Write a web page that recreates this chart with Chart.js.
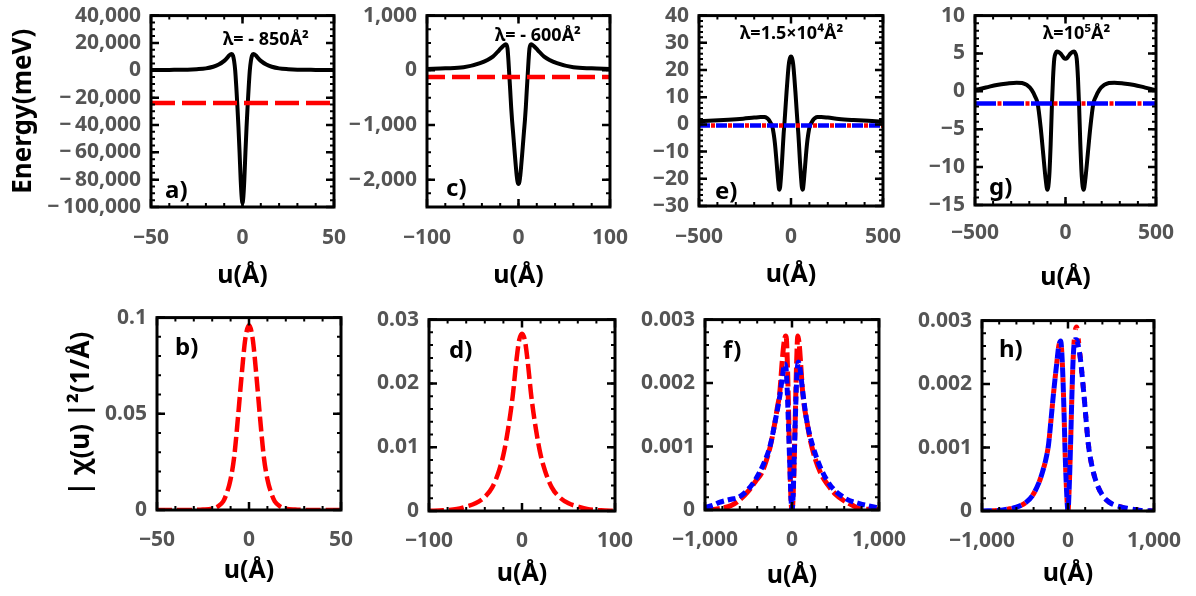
<!DOCTYPE html>
<html>
<head>
<meta charset="utf-8">
<script src="https://cdn.jsdelivr.net/npm/chart.js@4.4.1/dist/chart.umd.min.js"></script>
<style>
  body { margin: 0; background: #fff; width: 1196px; height: 596px; overflow: hidden; position: relative; }
  canvas { position: absolute; }
</style>
</head>
<body>
<script>
// ---- values ----
// a) lambda = -850
const uA = [-50,-40,-30,-25,-20,-16,-13,-10,-8.5,-7.4,-6.6,-5.9,-5.2,-4.6,-4,-3.4,-2.8,-2.2,-1.6,-1,-0.5,0,0.5,1,1.6,2.2,2.8,3.4,4,4.6,5.2,5.9,6.6,7.4,8.5,10,13,16,20,25,30,40,50];
const vA = [250,300,450,800,1400,2600,4200,6900,8900,10700,11600,12000,10800,7000,0,-12000,-26000,-42000,-60000,-80000,-92000,-97000,-92000,-80000,-60000,-42000,-26000,-12000,0,7000,10800,12000,11600,10700,8900,6900,4200,2600,1400,800,450,300,250];
const e0A = -24000;

// c) lambda = -600
const uC = [-100,-80,-60,-42,-28,-21,-17,-13.8,-12,-11,-10,-9,-8,-7,-6,-5,-4,-3,-2,-1,0,1,2,3,4,5,6,7,8,9,10,11,12,13.8,17,21,28,42,60,80,100];
const vC = [25,35,55,130,250,370,440,478,400,180,-100,-380,-680,-920,-1120,-1330,-1540,-1740,-1920,-2040,-2080,-2040,-1920,-1740,-1540,-1330,-1120,-920,-680,-380,-100,180,400,478,440,370,250,130,55,35,25];
const e0C = -125;

// e) lambda = 1.5e4
const uE = [-500,-420,-340,-260,-200,-165,-145,-130,-120,-112,-102,-94,-87,-80,-74,-69,-64,-59,-54,-49,-44,-40,-36,-30,-24,-18,-12,-6,0,6,12,18,24,30,36,40,44,49,54,59,64,69,74,80,87,94,102,112,120,130,145,165,200,260,340,420,500];
const vE = [1.2,1.4,1.7,2.1,2.5,2.7,2.7,2.3,1.6,0.7,-0.6,-3.5,-7.2,-12.5,-17.5,-21.5,-24,-23,-19,-14,-8,-3.5,0,6,12,17.5,22,24.3,25,24.3,22,17.5,12,6,0,-3.5,-8,-14,-19,-23,-24,-21.5,-17.5,-12.5,-7.2,-3.5,-0.6,0.7,1.6,2.3,2.7,2.7,2.5,2.0,1.6,1.3,1.0];
const e0E = -0.4;

// g) lambda = 1e5
const uG = [-500,-440,-380,-320,-270,-240,-214,-187,-168,-154,-137,-123,-110,-100,-90,-82,-75,-69,-62,-55,-48,-38,-28,-18,-9,0,9,18,28,38,48,55,62,69,75,82,90,100,110,123,137,154,168,187,214,240,270,320,380,440,500];
const vG = [0.2,0.5,0.85,1.05,1.15,1.1,0.84,0.19,-0.68,-1.6,-4.8,-8.3,-11.5,-13,-11.3,-7,-1.8,1.7,4.3,5.0,5.25,5.2,5.0,4.7,4.4,4.3,4.4,4.7,5.0,5.2,5.25,5.0,4.3,1.7,-1.8,-7,-11.3,-13,-11.5,-8.3,-4.8,-1.6,-0.68,0.19,0.84,1.1,1.15,1.05,0.85,0.5,0.15];
const e0G = -1.6;

// b) |chi|^2 for a)
const uB = [-50,-30,-25,-20,-17,-14,-12,-10,-8,-6,-4,-2,0,2,4,6,8,10,12,14,17,20,25,30,50];
const vB = [0,0.00005,0.0002,0.0007,0.0018,0.0045,0.009,0.016,0.028,0.048,0.07,0.089,0.096,0.089,0.07,0.048,0.028,0.016,0.009,0.0045,0.0018,0.0007,0.0002,0.00005,0];

// d)
const uD = [-100,-85,-70,-60,-50,-40,-32,-25,-20,-15,-10,-6,-3,0,3,6,10,15,20,25,32,40,50,60,70,85,100];
const vD = [0.00003,0.0001,0.0003,0.0007,0.0012,0.0022,0.0037,0.0062,0.0088,0.0128,0.018,0.0236,0.0268,0.0278,0.0268,0.0236,0.018,0.0128,0.0088,0.0062,0.0037,0.0022,0.0012,0.0007,0.0003,0.0001,0.00003];

// f) red and blue
const uFr = [-1000,-900,-800,-700,-600,-500,-420,-350,-300,-250,-200,-170,-140,-115,-95,-80,-72,-64,-55,-45,-35,-22,-10,0,10,22,35,45,55,66,74,84,100,120,145,172,210,264,330,410,500,593,700,776,900,1000];
const vFr = [0.000005,0.00001,0.00003,0.00007,0.00016,0.0003,0.00045,0.00058,0.00076,0.001,0.00135,0.0016,0.00186,0.0023,0.0026,0.00272,0.00274,0.0027,0.0024,0.0019,0.0013,0.0006,0.00012,0,0.00012,0.0006,0.0013,0.0019,0.0024,0.00274,0.0027,0.0026,0.0023,0.0019,0.0016,0.00139,0.0011,0.00082,0.00058,0.0004,0.00025,0.00015,0.00007,0.00002,0.00001,0.000005];
const uFb = [-1000,-900,-835,-700,-615,-500,-420,-322,-250,-194,-140,-110,-85,-70,-55,-40,-25,-12,0,12,25,40,55,74,95,120,172,264,410,593,776,900,1000];
const vFb = [0.00004,0.00008,0.00012,0.00017,0.0002,0.00033,0.00048,0.00074,0.00102,0.00139,0.0018,0.0021,0.0023,0.00225,0.0019,0.0013,0.0007,0.0002,0,0.0002,0.0008,0.0015,0.0021,0.00233,0.0022,0.0019,0.00139,0.0009,0.00045,0.0002,0.0001,0.00006,0.00003];

// h) red and blue (almost the same curve)
const uHr = [-1000,-800,-700,-600,-485,-410,-337,-300,-260,-226,-200,-170,-133,-107,-85,-72,-59,-45,-33,-16,0,15,30,45,60,80,100,120,144,181,237,280,330,400,478,600,700,850,1000];
const vHr = [0,0.00001,0.00003,0.00006,0.00014,0.00025,0.00045,0.0006,0.0008,0.00105,0.0014,0.00183,0.0023,0.0026,0.00268,0.0025,0.0021,0.0015,0.0009,0.0003,0,0.0004,0.00105,0.0018,0.0024,0.0028,0.0029,0.0027,0.0024,0.0019,0.00105,0.0007,0.00045,0.00025,0.00014,0.00007,0.00004,0.00001,0];
const uHb = uHr;
const vHb = [0,0.00001,0.00003,0.00006,0.00014,0.00025,0.00045,0.0006,0.0008,0.00105,0.0014,0.00183,0.0023,0.0026,0.00268,0.0025,0.0021,0.0015,0.0009,0.0003,0,0.0004,0.00105,0.0018,0.0024,0.0027,0.0027,0.0026,0.0024,0.0019,0.00105,0.0007,0.00045,0.00025,0.00014,0.00007,0.00004,0.00001,0];

// tick labels
const xTicksA = [-50, 0, 50];
const xTicksC = [-100, 0, 100];
const xTicksE = [-500, 0, 500];
const xTicksF = [-1000, 0, 1000];
const yTicksA = [40000, 20000, 0, -20000, -40000, -60000, -80000, -100000];
const yTicksC = [1000, 0, -1000, -2000];
const yTicksE = [40, 30, 20, 10, 0, -10, -20, -30];
const yTicksG = [10, 5, 0, -5, -10, -15];
const yTicksB = [0.1, 0.05, 0];
const yTicksD = [0.03, 0.02, 0.01, 0];
const yTicksF = [0.003, 0.002, 0.001, 0];

// ---- drawing ----
Chart.defaults.font.family = "'Noto Sans', 'Open Sans', sans-serif";
const TICK = '#555';
const PAD_TOP = 20, PAD_RIGHT = 36;

function fmt(v, minus) {
  if (v === 0) return '0';
  const s = Math.abs(v).toLocaleString('en-US', { maximumFractionDigits: 4 });
  return v < 0 ? (minus || '\u2212') + s : s;
}

function pts(xs, ys) {
  return xs.map((x, i) => ({ x: x, y: ys[i] }));
}

function line(data, color, width, dash, offset, order) {
  return {
    data: data, borderColor: color, borderWidth: width,
    borderDash: dash || [], borderDashOffset: offset || 0,
    pointRadius: 0, fill: false, cubicInterpolationMode: 'monotone',
    order: order
  };
}

// frame, inward ticks and panel texts
const panelDeco = {
  id: 'panelDeco',
  afterDraw(chart, args, o) {
    const { ctx, chartArea: a, scales: { x, y } } = chart;
    ctx.save();
    ctx.strokeStyle = '#000';
    ctx.lineCap = 'butt';
    const vTick = (v, len) => {
      const px = x.getPixelForValue(v);
      ctx.beginPath();
      ctx.moveTo(px, a.bottom); ctx.lineTo(px, a.bottom - len);
      ctx.moveTo(px, a.top); ctx.lineTo(px, a.top + len);
      ctx.stroke();
    };
    const hTick = (v, len) => {
      const py = y.getPixelForValue(v);
      ctx.beginPath();
      ctx.moveTo(a.left, py); ctx.lineTo(a.left + len, py);
      ctx.moveTo(a.right, py); ctx.lineTo(a.right - len, py);
      ctx.stroke();
    };
    ctx.lineWidth = 2;
    for (let v = Math.ceil(x.min / o.xMinor) * o.xMinor; v <= x.max + 1e-9; v += o.xMinor) vTick(v, 4);
    for (let v = Math.ceil(y.min / o.yMinor) * o.yMinor; v <= y.max + 1e-12; v += o.yMinor) hTick(v, 4);
    ctx.lineWidth = 2.5;
    x.ticks.forEach(t => vTick(t.value, 8));
    y.ticks.forEach(t => hTick(t.value, 8));
    ctx.lineWidth = 3;
    ctx.strokeRect(a.left, a.top, a.right - a.left, a.bottom - a.top);

    ctx.fillStyle = '#000';
    ctx.textBaseline = 'alphabetic';
    ctx.textAlign = 'left';
    ctx.font = "bold 24px 'Noto Sans'";
    ctx.fillText(o.label, a.left + o.labelPos[0], a.top + o.labelPos[1]);
    if (o.lambda) {
      ctx.font = "bold 18px 'Noto Sans'";
      ctx.fillText(o.lambda, a.left + o.lambdaPos[0], a.top + o.lambdaPos[1]);
    }
    ctx.restore();
  }
};

const panels = [
  { box: [151, 13, 334, 207], yw: 151, xh: 86, xPad: 18, x: [-50, 50], y: [-100000, 40000],
    xTicks: xTicksA, yTicks: yTicksA, xMinor: 10, yMinor: 5000, yMinus: '\u2212\u2009',
    yTitle: { text: 'Energy(meV)', size: 26, pad: 8 }, label: 'a)', labelPos: [14, 182],
    lambda: 'λ= - 850Å²', lambdaPos: [72, 29],
    sets: [line(pts([-50, 50], [e0A, e0A]), '#ff0000', 4.5, [24, 7], 0, 0),
           line(pts(uA, vA), '#000', 4, null, 0, 1)] },
  { box: [427, 13, 610, 207], yw: 110, xh: 86, xPad: 18, x: [-100, 100], y: [-2500, 1000],
    xTicks: xTicksC, yTicks: yTicksC, xMinor: 20, yMinor: 250, yMinus: '\u2212\u200a',
    label: 'c)', labelPos: [19, 180], lambda: 'λ= - 600Å²', lambdaPos: [68, 25],
    sets: [line(pts([-100, 100], [e0C, e0C]), '#ff0000', 4.5, [18, 7], 0, 0),
           line(pts(uC, vC), '#000', 4, null, 0, 1)] },
  { box: [699, 13, 883, 206], yw: 110, xh: 86, xPad: 18, x: [-500, 500], y: [-30, 40],
    xTicks: xTicksE, yTicks: yTicksE, xMinor: 100, yMinor: 2,
    label: 'e)', labelPos: [16, 183], lambda: 'λ=1.5×10⁴Å²', lambdaPos: [41, 23],
    sets: [line(pts([-500, 500], [e0E, e0E]), '#0000ff', 4.5, [11, 6], 0, 0),
           line(pts([-500, 500], [e0E, e0E]), '#ff0000', 4.5, [4, 13], -12, 1),
           line(pts(uE, vE), '#000', 4, null, 0, 2)] },
  { box: [975, 13, 1156, 205], yw: 110, xh: 90, xPad: 15, x: [-500, 500], y: [-15, 10],
    xTicks: xTicksE, yTicks: yTicksG, xMinor: 100, yMinor: 1,
    label: 'g)', labelPos: [14, 179], lambda: 'λ=10⁵Å²', lambdaPos: [68, 23],
    sets: [line(pts([-500, 500], [e0G, e0G]), '#0000ff', 4.5, [21, 7], 0, 0),
           line(pts([-500, 500], [e0G, e0G]), '#ff0000', 4.5, [4, 24], -22.5, 1),
           line(pts(uG, vG), '#000', 4, null, 0, 2)] },
  { box: [157, 315, 341, 510], yw: 157, xh: 78, xPad: 17, x: [-50, 50], y: [0, 0.1],
    xTicks: xTicksA, yTicks: yTicksB, xMinor: 10, yMinor: 0.01,
    yTitle: { text: '| χ(u) |²(1/Å)', size: 26, pad: 66 }, label: 'b)', labelPos: [18, 37],
    sets: [line(pts(uB, vB), '#ff0000', 4.5, [15, 5], 0, 0)] },
  { box: [429, 317, 615, 511], yw: 110, xh: 80, xPad: 17, x: [-100, 100], y: [0, 0.03],
    xTicks: xTicksC, yTicks: yTicksD, xMinor: 20, yMinor: 0.002,
    label: 'd)', labelPos: [20, 38],
    sets: [line(pts(uD, vD), '#ff0000', 4.5, [15, 5], 0, 0)] },
  { box: [705, 317, 887, 510], yw: 110, xh: 83, xPad: 17, x: [-1000, 1000], y: [0, 0.003],
    xTicks: xTicksF, yTicks: yTicksF, xMinor: 200, yMinor: 0.0002,
    label: 'f)', labelPos: [18, 38],
    sets: [line(pts(uFb, vFb), '#0000ff', 5, [8, 4], 0, 0),
           line(pts(uFr, vFr), '#ff0000', 5, [15, 4], 0, 1)] },
  { box: [982, 318, 1162, 511], yw: 110, xh: 80, xPad: 17, x: [-1000, 1000], y: [0, 0.003],
    xTicks: xTicksF, yTicks: yTicksF, xMinor: 200, yMinor: 0.0002,
    label: 'h)', labelPos: [17, 36],
    sets: [line(pts(uHb, vHb), '#0000ff', 5, [10, 5], 0, 0),
           line(pts(uHr, vHr), '#ff0000', 5, [5, 10], -10, 1)] }
];

function makePanel(p) {
  const bw = p.box[2] - p.box[0], bh = p.box[3] - p.box[1];
  const w = bw + p.yw + PAD_RIGHT, h = bh + PAD_TOP + p.xh;
  const cv = document.createElement('canvas');
  cv.width = w; cv.height = h;
  cv.style.left = (p.box[0] - p.yw) + 'px';
  cv.style.top = (p.box[1] - PAD_TOP) + 'px';
  cv.style.width = w + 'px'; cv.style.height = h + 'px';
  document.body.appendChild(cv);

  const tickFont = { size: 21, weight: 'bold' };
  const titleFont = { size: 25, weight: 'bold' };

  new Chart(cv, {
    type: 'line',
    data: { datasets: p.sets },
    options: {
      responsive: false,
      animation: false,
      events: [],
      layout: { padding: { top: PAD_TOP, right: PAD_RIGHT, left: 0, bottom: 0 } },
      plugins: {
        legend: { display: false },
        tooltip: { enabled: false },
        panelDeco: { xMinor: p.xMinor, yMinor: p.yMinor, label: p.label, labelPos: p.labelPos,
                     lambda: p.lambda, lambdaPos: p.lambdaPos }
      },
      scales: {
        x: {
          type: 'linear', min: p.x[0], max: p.x[1],
          afterBuildTicks: s => { s.ticks = p.xTicks.map(v => ({ value: v })); },
          afterFit: s => { s.height = p.xh; },
          grid: { display: false, drawTicks: false },
          border: { display: false },
          ticks: { autoSkip: false, maxRotation: 0, padding: p.xPad, color: TICK, font: tickFont,
                   callback: v => fmt(v) },
          title: { display: true, text: 'u(Å)', color: '#000', font: titleFont, padding: { top: 0, bottom: 2 } }
        },
        y: {
          type: 'linear', min: p.y[0], max: p.y[1],
          afterBuildTicks: s => { s.ticks = p.yTicks.map(v => ({ value: v })); },
          afterFit: s => { s.width = p.yw; },
          grid: { display: false, drawTicks: false },
          border: { display: false },
          ticks: { autoSkip: false, padding: 10, color: TICK, font: tickFont, callback: v => fmt(v, p.yMinus) },
          title: p.yTitle
            ? { display: true, text: p.yTitle.text, color: '#000', font: { size: p.yTitle.size, weight: 'bold' },
                padding: { top: p.yTitle.pad, bottom: 0 } }
            : { display: false }
        }
      }
    },
    plugins: [panelDeco]
  });
}

panels.forEach(makePanel);
</script>
</body>
</html>
